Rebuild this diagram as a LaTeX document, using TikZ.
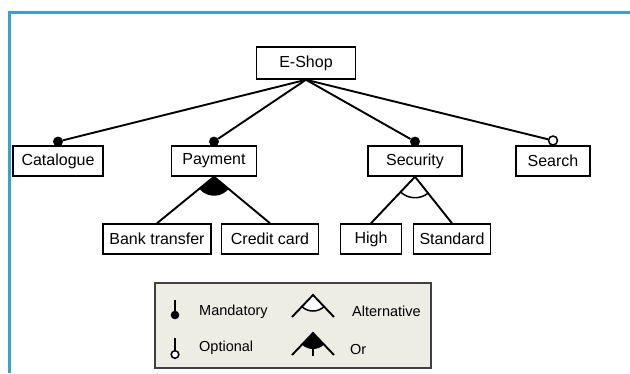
\documentclass[tikz,border=0pt]{standalone}
\usepackage{fontspec}
\setmainfont{Liberation Sans}
\usetikzlibrary{positioning}
\definecolor{frameblue}{RGB}{56,160,214}
\definecolor{legendbg}{RGB}{237,237,228}
\newcommand{\keyfont}{\fontsize{14.5}{16}\selectfont}

\begin{document}
\begin{tikzpicture}[
  x=1pt, y=1pt,
  feat/.style={draw, line width=1.5pt, minimum height=30pt, inner sep=2pt, font=\fontsize{16}{19}\selectfont},
  edge/.style={line width=1.9pt},
  mand/.style={circle, fill=black, inner sep=0pt, minimum size=10pt},
  opt/.style={circle, draw, line width=1.5pt, fill=white, inner sep=0pt, minimum size=9pt},
  ltext/.style={font=\keyfont, anchor=west, inner sep=0pt},
  legend/.style={draw=black!75, line width=1.8pt, fill=legendbg},
]
  \useasboundingbox (0,0) rectangle (630,-373);
  \draw[frameblue, line width=3pt] (630,-12) -- (9,-12) -- (9,-373);

  \node[feat, minimum width=99, minimum height=32] (eshop) at (306,-63) {E-Shop};

  \node[feat, minimum width=90] (cat)    at (58,-161)  {Catalogue};
  \node[feat, minimum width=85] (pay)    at (214,-161) {Payment};
  \node[feat, minimum width=94] (sec)    at (415,-161) {Security};
  \node[feat, minimum width=74] (search) at (553,-161) {Search};

  \node[feat, minimum width=108] (bank)  at (157,-239) {Bank transfer};
  \node[feat, minimum width=97] (credit) at (270,-239) {Credit card};
  \node[feat, minimum width=61] (high)   at (371,-239) {High};
  \node[feat, minimum width=77] (std)    at (452,-239) {Standard};

  \node[mand, above=-1.5pt of cat] (catd) {};
  \node[mand, above=-1.5pt of pay] (payd) {};
  \node[mand, above=-1.5pt of sec] (secd) {};
  \node[opt, above=-0.5pt of search] (searchd) {};

  \foreach \f in {catd, payd, secd, searchd} \draw[edge] (eshop.south) -- (\f);

  % or group under Payment, alternative group under Security
  \fill (pay.south) -- ++(220:19) arc[start angle=220, end angle=320, radius=19] -- cycle;
  \draw[edge] (pay.south) -- (bank.north);
  \draw[edge] (pay.south) -- (credit.north);
  \draw[edge] (sec.south) -- (high.north);
  \draw[edge] (sec.south) -- (std.north);
  \draw[line width=1.5pt] (sec.south) ++(227.5:21) arc[start angle=227.5, end angle=307.6, radius=21];

  \node[legend, minimum width=276, minimum height=85] (key) at (293,-325.5) {};

  \draw[edge] (175,-300) -- (175,-312);
  \fill (175,-315) circle (4.3);
  \draw[edge] (175,-338) -- (175,-351);
  \draw[line width=1.5pt, fill=white] (175,-354.5) circle (3.8);

  \fill[white] (313,-295) -- ++(226.3:16) arc[start angle=226.3, end angle=313.7, radius=16] -- cycle;
  \draw[line width=1.5pt] (313,-295) ++(226.3:16) arc[start angle=226.3, end angle=313.7, radius=16];
  \draw[edge] (292,-317) -- (313,-295) -- (334,-317);
  \fill (313,-333) -- ++(226.3:16) arc[start angle=226.3, end angle=313.7, radius=16] -- cycle;
  \draw[edge] (292,-355) -- (313,-333) -- (334,-355);
  \draw[edge] (313,-333) -- (313,-356);

  \node[ltext] (kmand) at (199,-312) {Mandatory};
  \node[ltext] (kopt)  at (199,-348) {Optional};
  \node[ltext] (kalt)  at (352,-311) {Alternative};
  \node[ltext] (kor)   at (350,-350) {Or};
\end{tikzpicture}
\end{document}
